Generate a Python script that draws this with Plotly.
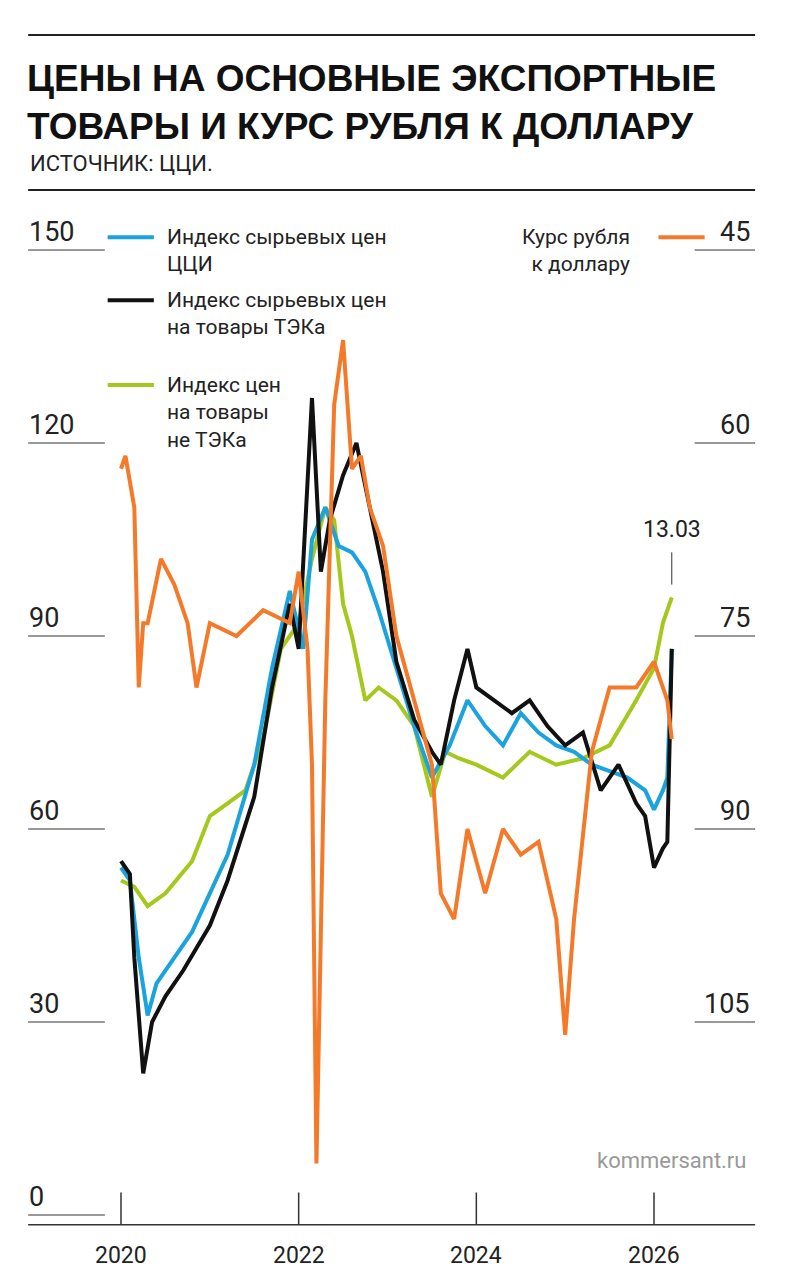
import plotly.graph_objects as go

# ─── Данные ───────────────────────────────────────────────────────────────────
ccy_x = [2020.0, 2020.1, 2020.2, 2020.3, 2020.4, 2020.6, 2020.8, 2021.0, 2021.2, 2021.5,
         2021.7, 2021.9, 2022.05, 2022.15, 2022.3, 2022.45, 2022.6, 2022.75, 2022.9, 2023.1,
         2023.3, 2023.5, 2023.7, 2023.9, 2024.1, 2024.3, 2024.5, 2024.7, 2024.9, 2025.1,
         2025.3, 2025.5, 2025.7, 2025.9, 2026.0, 2026.1, 2026.15, 2026.2]
ccy = [54, 52, 40, 31, 36, 40, 44, 50, 56, 70,
       85, 97, 88, 105, 110, 104, 103, 100, 94, 85,
       76, 68, 73, 80, 76, 73, 78, 75, 73, 72,
       70, 69, 68, 66, 63, 66, 68, 88]

tek_x = [2020.0, 2020.1, 2020.15, 2020.25, 2020.35, 2020.5, 2020.7, 2021.0, 2021.2, 2021.5,
         2021.7, 2021.9, 2022.0, 2022.15, 2022.25, 2022.35, 2022.5, 2022.65, 2022.8, 2022.95,
         2023.1, 2023.3, 2023.5, 2023.6, 2023.75, 2023.9, 2024.0, 2024.2, 2024.4, 2024.6,
         2024.8, 2025.0, 2025.2, 2025.4, 2025.6, 2025.8, 2025.9, 2026.0, 2026.1, 2026.15, 2026.2]
tek = [55, 53, 40, 22, 30, 34, 38, 45, 52, 65,
       82, 95, 88, 127, 100, 108, 115, 120, 110, 100,
       86, 77, 72, 70, 80, 88, 82, 80, 78, 80,
       76, 73, 75, 66, 70, 64, 62, 54, 57, 58, 88]

nontek_x = [2020.0, 2020.15, 2020.3, 2020.5, 2020.8, 2021.0, 2021.2, 2021.4, 2021.6, 2021.8,
            2022.0, 2022.15, 2022.3, 2022.4, 2022.5, 2022.6, 2022.75, 2022.9, 2023.1, 2023.3,
            2023.5, 2023.65, 2023.8, 2024.0, 2024.3, 2024.6, 2024.9, 2025.2, 2025.5, 2025.8,
            2026.0, 2026.1, 2026.2]
nontek = [52, 51, 48, 50, 55, 62, 64, 66, 74, 88,
          92, 102, 110, 108, 95, 90, 80, 82, 80, 76,
          65, 72, 71, 70, 68, 72, 70, 71, 73, 80,
          85, 92, 96]

rub_x = [2020.0, 2020.05, 2020.15, 2020.2, 2020.25, 2020.3, 2020.45, 2020.6, 2020.75, 2020.85,
         2021.0, 2021.3, 2021.6, 2021.9, 2022.0, 2022.1, 2022.15, 2022.2, 2022.3, 2022.4,
         2022.5, 2022.6, 2022.7, 2022.8, 2022.95, 2023.1, 2023.3, 2023.5, 2023.6, 2023.75,
         2023.9, 2024.1, 2024.3, 2024.5, 2024.7, 2024.9, 2025.0, 2025.1, 2025.3, 2025.5,
         2025.8, 2026.0, 2026.15, 2026.2]
rub = [62, 61, 65, 79, 74, 74, 69, 71, 74, 79,
       74, 75, 73, 74, 70, 76, 85, 116, 80, 57,
       52, 62, 61, 65, 68, 75, 80, 85, 95, 97,
       90, 95, 90, 92, 91, 97, 106, 97, 84, 79,
       79, 77, 80, 83]

left_ticks = [0, 30, 60, 90, 120, 150]
right_ticks = [45, 60, 75, 90, 105]
year_ticks = [2020, 2022, 2024, 2026]

BLUE, BLACK, GREEN, ORANGE = "#1aa3dd", "#111111", "#a4c81c", "#f47a2a"
FONT = "Roboto"

fig = go.Figure()
fig.add_trace(go.Scatter(x=rub_x, y=rub, yaxis="y2", line=dict(color=ORANGE, width=4)))
fig.add_trace(go.Scatter(x=nontek_x, y=nontek, line=dict(color=GREEN, width=4)))
fig.add_trace(go.Scatter(x=ccy_x, y=ccy, line=dict(color=BLUE, width=4)))
fig.add_trace(go.Scatter(x=tek_x, y=tek, line=dict(color=BLACK, width=4)))

shapes, ann = [], []
# верхние линейки
for py in [0.9786, 0.856]:
    shapes.append(dict(type="line", xref="paper", yref="paper", x0=0.026, x1=0.964,
                       y0=py, y1=py, line=dict(color="#222", width=2)))
ann.append(dict(xref="paper", yref="paper", x=0.022, y=0.962, xanchor="left", yanchor="top",
                text="<b>ЦЕНЫ НА ОСНОВНЫЕ ЭКСПОРТНЫЕ<br>ТОВАРЫ И КУРС РУБЛЯ К ДОЛЛАРУ</b>",
                align="left", showarrow=False,
                font=dict(family="Liberation Sans", size=37, color="#111")))
ann.append(dict(xref="paper", yref="paper", x=0.026, y=0.877, xanchor="left", yanchor="middle",
                text="ИСТОЧНИК: ЦЦИ.", showarrow=False,
                font=dict(family=FONT, size=22, color="#222")))

# левая шкала
for v in left_ticks:
    shapes.append(dict(type="line", xref="paper", yref="y", x0=0.026, x1=0.125, y0=v, y1=v,
                       line=dict(color="#333", width=1)))
    ann.append(dict(xref="paper", yref="y", x=0.024, y=v, xanchor="left", yanchor="bottom",
                    text=str(v), showarrow=False, font=dict(family=FONT, size=27, color="#222")))
# правая шкала
for v in right_ticks:
    shapes.append(dict(type="line", xref="paper", yref="y2", x0=0.886, x1=0.964, y0=v, y1=v,
                       line=dict(color="#333", width=1)))
    ann.append(dict(xref="paper", yref="y2", x=0.96, y=v, xanchor="right", yanchor="bottom",
                    text=str(v), showarrow=False, font=dict(family=FONT, size=27, color="#222")))
# ось времени
shapes.append(dict(type="line", xref="paper", yref="y", x0=0.026, x1=0.964, y0=-1.5, y1=-1.5,
                   line=dict(color="#333", width=1.5)))
for yr in year_ticks:
    shapes.append(dict(type="line", x0=yr, x1=yr, y0=-1.5, y1=3.5, xref="x", yref="y",
                       line=dict(color="#333", width=1.5)))
    ann.append(dict(x=yr, y=-6.3, yanchor="middle", text=str(yr), showarrow=False,
                    font=dict(family=FONT, size=23, color="#222")))

# легенда
def legend_item(x0, y, color, text, right=False):
    shapes.append(dict(type="line", x0=x0, x1=x0 + 0.52, y0=y, y1=y,
                       line=dict(color=color, width=4)))
    if right:
        ann.append(dict(x=x0 - 0.3, y=y + 2.2, xanchor="right", yanchor="top", align="right",
                        text=text, showarrow=False, font=dict(family=FONT, size=21, color="#222")))
    else:
        ann.append(dict(x=x0 + 0.65, y=y + 2.2, xanchor="left", yanchor="top", align="left",
                        text=text, showarrow=False, font=dict(family=FONT, size=21, color="#222")))

legend_item(2019.85, 152, BLUE, "Индекс сырьевых цен<br>ЦЦИ")
legend_item(2019.85, 142.2, BLACK, "Индекс сырьевых цен<br>на товары ТЭКа")
legend_item(2019.85, 129, GREEN, "Индекс цен<br>на товары<br>не ТЭКа")
legend_item(2026.05, 152, ORANGE, "Курс рубля<br>к доллару", right=True)

# отметка даты
shapes.append(dict(type="line", x0=2026.2, x1=2026.2, y0=98, y1=103,
                   line=dict(color="#333", width=1)))
ann.append(dict(x=2026.2, y=106.5, yanchor="middle", text="13.03", showarrow=False,
                font=dict(family=FONT, size=23, color="#222")))
ann.append(dict(xref="paper", yref="y", x=0.955, y=8.5, xanchor="right", yanchor="middle",
                text="kommersant.ru", showarrow=False,
                font=dict(family=FONT, size=22, color="#999")))

fig.update_layout(
    width=775, height=1264, margin=dict(l=0, r=0, t=0, b=0),
    paper_bgcolor="white", plot_bgcolor="white", showlegend=False,
    xaxis=dict(range=[2018.728, 2027.452], visible=False),
    yaxis=dict(range=[-8.86, 187.62], visible=False),
    yaxis2=dict(range=[45 + (150 + 8.86) / 2, 45 + (150 - 187.62) / 2],
                overlaying="y", visible=False),
    shapes=shapes, annotations=ann,
)
fig.write_html("out.html")
